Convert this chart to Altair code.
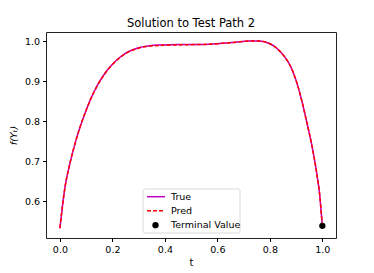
import altair as alt
import pandas as pd

# ---- data ----
t_vals = [0.0, 0.01, 0.02, 0.04, 0.06, 0.08, 0.10, 0.12, 0.14, 0.16, 0.18, 0.20, 0.23,
          0.26, 0.30, 0.34, 0.39, 0.45, 0.52, 0.57, 0.62, 0.67, 0.72, 0.76, 0.80, 0.82,
          0.84, 0.86, 0.88, 0.90, 0.92, 0.94, 0.96, 0.98, 0.99, 0.997, 1.0]
true_vals = [0.533, 0.59, 0.638, 0.70, 0.75, 0.792, 0.828, 0.86, 0.887, 0.909, 0.928, 0.943, 0.961,
             0.974, 0.984, 0.989, 0.991, 0.992, 0.992, 0.993, 0.995, 0.998, 1.001, 1.001, 0.994, 0.986,
             0.974, 0.958, 0.936, 0.902, 0.856, 0.80, 0.74, 0.664, 0.616, 0.562, 0.541]
pred_vals = [0.533, 0.59, 0.638, 0.70, 0.75, 0.792, 0.828, 0.86, 0.886, 0.908, 0.927, 0.942, 0.960,
             0.973, 0.983, 0.988, 0.990, 0.991, 0.992, 0.993, 0.995, 0.998, 1.001, 1.001, 0.994, 0.986,
             0.974, 0.958, 0.936, 0.902, 0.856, 0.80, 0.74, 0.664, 0.616, 0.562, 0.540]
terminal_t = [1.0]
terminal_y = [0.539]
legend_labels = ["True", "Pred", "Terminal Value"]
x_ticks = [0.0, 0.2, 0.4, 0.6, 0.8, 1.0]
y_ticks = [0.6, 0.7, 0.8, 0.9, 1.0]

df = pd.DataFrame({"t": t_vals, "true": true_vals, "pred": pred_vals})
df_term = pd.DataFrame({"t": terminal_t, "y": terminal_y})

FONT = "DejaVu Sans"
W, H = 290, 206

xs = alt.Scale(domain=[-0.053, 1.052], nice=False, zero=False)
ys = alt.Scale(domain=[0.5086, 1.0234], nice=False, zero=False)

x_axis = alt.Axis(values=x_ticks, format=".1f", title="t", grid=False, domain=False,
                  tickSize=3.5, tickColor="black", labelColor="black",
                  labelFontSize=9.5, titleFontSize=10, titleFontWeight="normal",
                  labelPadding=3, titlePadding=3, titleColor="black", labelFont=FONT, titleFont=FONT)
y_axis = alt.Axis(values=y_ticks, format=".1f", title="f(Yₜ)", grid=False, domain=False,
                  tickSize=3.5, tickColor="black", labelColor="black",
                  labelFontSize=9.5, titleFontSize=9.5, titleFontWeight="normal",
                  titleFontStyle="italic", labelPadding=3, titlePadding=6,
                  titleColor="black", labelFont=FONT, titleFont=FONT)

true_line = alt.Chart(df).mark_line(color="#bf00bf", strokeWidth=1.5, interpolate="monotone").encode(
    x=alt.X("t:Q", scale=xs, axis=x_axis),
    y=alt.Y("true:Q", scale=ys, axis=y_axis),
)
pred_line = alt.Chart(df).mark_line(color="#ff0000", strokeWidth=1.5, strokeDash=[4, 2],
                                    interpolate="monotone").encode(
    x=alt.X("t:Q", scale=xs),
    y=alt.Y("pred:Q", scale=ys),
)
term = alt.Chart(df_term).mark_circle(color="black", size=40, opacity=1).encode(
    x=alt.X("t:Q", scale=xs),
    y=alt.Y("y:Q", scale=ys),
)

# ---- manual legend (matplotlib-style box) ----
one = alt.Chart(pd.DataFrame({"a": [0]}))
box = one.mark_rect(fill="white", stroke="#cccccc", strokeWidth=0.8, cornerRadius=2, opacity=0.9).encode(
    x=alt.value(97), x2=alt.value(194), y=alt.value(157), y2=alt.value(201))
row_y = [164.7, 178.7, 193.2]
leg_true = one.mark_rule(color="#bf00bf", strokeWidth=1.5).encode(
    x=alt.value(101), x2=alt.value(119), y=alt.value(row_y[0]))
leg_pred = one.mark_rule(color="#ff0000", strokeWidth=1.5, strokeDash=[4, 2]).encode(
    x=alt.value(101), x2=alt.value(119), y=alt.value(row_y[1]))
leg_pt = one.mark_circle(color="black", size=40, opacity=1).encode(
    x=alt.value(109.5), y=alt.value(row_y[2]))
leg_texts = [
    alt.Chart(pd.DataFrame({"label": [lab]})).mark_text(
        align="left", baseline="middle", font=FONT, fontSize=9.5, color="black").encode(
        text="label:N", x=alt.value(125), y=alt.value(row_y[i]))
    for i, lab in enumerate(legend_labels)
]

chart = alt.layer(true_line, pred_line, term, box, leg_true, leg_pred, leg_pt, *leg_texts).properties(
    width=W, height=H,
    title=alt.Title("Solution to Test Path 2", fontSize=11.5, fontWeight="normal", font=FONT,
                    color="black", offset=3),
    autosize=alt.AutoSizeParams(type="none"),
    padding={"left": 38, "top": 24, "right": 30, "bottom": 33},
).configure(background="white").configure_view(stroke="#222222", strokeWidth=1)

chart.save("out.html", embed_options={"renderer": "svg", "actions": False})
